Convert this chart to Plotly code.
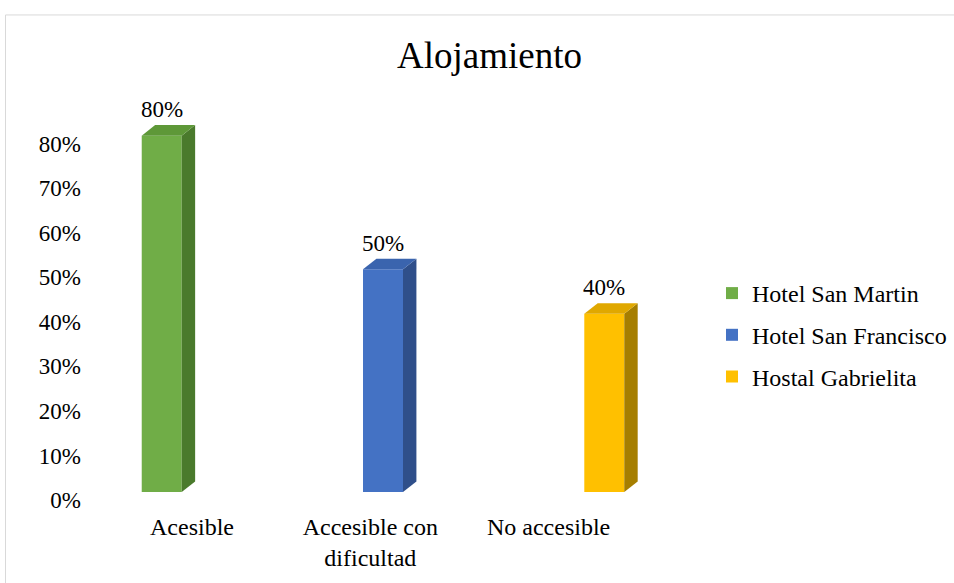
import plotly.graph_objects as go

# ---- data ----
categories = ["Acesible", "Accesible con<br>dificultad", "No accesible"]
series_names = ["Hotel San Martin", "Hotel San Francisco", "Hostal Gabrielita"]
hotel_san_martin = [0.80, None, None]
hotel_san_francisco = [None, 0.50, None]
hostal_gabrielita = [None, None, 0.40]
y_ticks = [0, 0.1, 0.2, 0.3, 0.4, 0.5, 0.6, 0.7, 0.8]

# ---- style ----
front_colors = ["#70AD47", "#4472C4", "#FFC000"]
top_colors = ["#5E9838", "#3A64AE", "#E0A800"]
side_colors = ["#4A7A2C", "#2F4F8A", "#A67E00"]
FONT = "Liberation Serif"

series_values = [hotel_san_martin, hotel_san_francisco, hostal_gabrielita]

shift = 0.0712      # group shift relative to category tick
slot = 0.241        # slot width per series inside a group
bar_w = 0.2243      # bar width in category units
dx = 0.0752         # depth in x (category units)
dy = 0.0238         # depth in y (data units)

fig = go.Figure()
shapes = []
annotations = []
for s, (name, vals) in enumerate(zip(series_names, series_values)):
    xs = [i + shift + (s - 1) * slot for i in range(len(categories))]
    fig.add_trace(go.Bar(
        x=xs, y=vals, width=bar_w, name=name,
        marker=dict(color=front_colors[s], line=dict(width=0)),
        legendgroup=name, hoverinfo="skip",
    ))
    for x, v in zip(xs, vals):
        if v is None:
            continue
        xl, xr = x - bar_w / 2, x + bar_w / 2
        # side face
        shapes.append(dict(
            type="path", xref="x", yref="y", layer="above",
            path=f"M{xr},0 L{xr+dx},{dy} L{xr+dx},{v+dy} L{xr},{v} Z",
            fillcolor=side_colors[s], line=dict(width=0),
        ))
        # top face
        shapes.append(dict(
            type="path", xref="x", yref="y", layer="above",
            path=f"M{xl},{v} L{xl+dx},{v+dy} L{xr+dx},{v+dy} L{xr},{v} Z",
            fillcolor=top_colors[s], line=dict(width=0),
        ))
        annotations.append(dict(
            x=x, y=v + dy, xref="x", yref="y", text=f"{round(v*100)}%",
            showarrow=False, yanchor="bottom", yshift=1,
            font=dict(family=FONT, size=23, color="#000000"),
        ))

# chart border (Excel chart area outline)
shapes.append(dict(
    type="rect", xref="paper", yref="paper",
    x0=(5.5 - 100) / 600, x1=(965 - 100) / 600,
    y0=(492.3 - 600) / 383.6, y1=(492.3 - 14.5) / 383.6,
    line=dict(color="#D9D9D9", width=1), fillcolor="rgba(0,0,0,0)", layer="below",
))

fig.update_layout(
    width=954, height=583,
    margin=dict(l=100, r=254, t=108.7, b=90.7),
    paper_bgcolor="white", plot_bgcolor="white",
    font=dict(family=FONT, size=23, color="#000000"),
    title=dict(text="Alojamiento", x=489.5 / 954, xanchor="center",
               y=1 - 55 / 583, yanchor="middle", yref="container",
               font=dict(family=FONT, size=37, color="#000000")),
    barmode="overlay",
    showlegend=True,
    legend=dict(x=712 / 954, xref="container", xanchor="left",
                y=1 - 271 / 583, yref="container", yanchor="top",
                tracegroupgap=7.5, font=dict(family=FONT, size=24),
                bgcolor="rgba(0,0,0,0)"),
    shapes=shapes,
    annotations=annotations,
)
fig.update_xaxes(range=[-0.516, 2.849], tickvals=list(range(len(categories))),
                 ticktext=categories, showgrid=False, zeroline=False,
                 showline=False, ticks="", ticklabelstandoff=18,
                 tickfont=dict(family=FONT, size=24))
fig.update_yaxes(range=[0, 0.86], tickvals=y_ticks, tickformat=".0%",
                 showgrid=False, zeroline=False, showline=False, ticks="",
                 ticklabelshift=8, ticklabelstandoff=18,
                 tickfont=dict(family=FONT, size=23))

fig.write_html("out.html")
